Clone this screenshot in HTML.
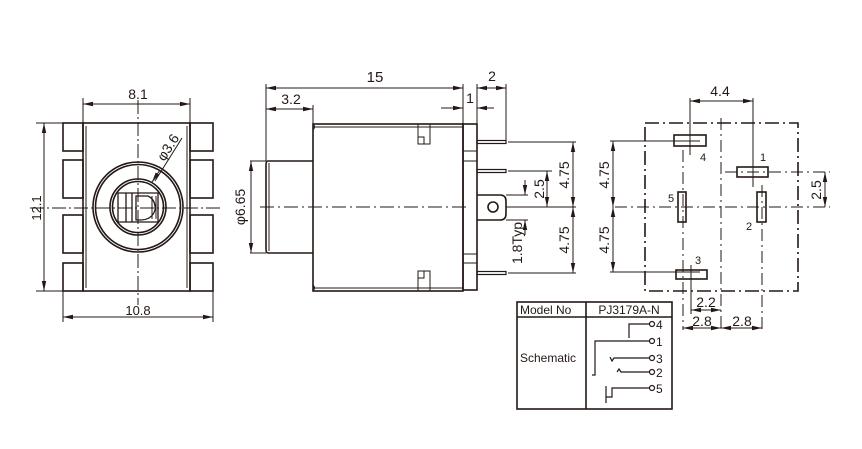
<!DOCTYPE html>
<html><head><meta charset="utf-8"><style>
html,body{margin:0;padding:0;background:#fff;}
svg{display:block}
text{font-family:"Liberation Sans",sans-serif;fill:#231815}
</style></head><body>
<svg width="862" height="449" viewBox="0 0 862 449" xmlns="http://www.w3.org/2000/svg">
<defs>
<marker id="a" viewBox="0 0 10 6" refX="10" refY="3" markerWidth="10" markerHeight="6" orient="auto-start-reverse" markerUnits="userSpaceOnUse"><path d="M0,0.8 L10,3 L0,5.2z" fill="#231815"/></marker>
</defs>
<g stroke="#231815" fill="none" stroke-width="1">
<g stroke-width="1.6">
<rect x="83" y="123" width="107" height="168"/>
<rect x="63" y="123" width="20" height="28"/>
<rect x="63" y="160" width="20" height="38"/>
<rect x="63" y="215" width="20" height="38"/>
<rect x="63" y="263" width="20" height="28"/>
<rect x="190" y="123" width="23" height="28"/>
<rect x="190" y="160" width="23" height="38"/>
<rect x="190" y="215" width="23" height="38"/>
<rect x="190" y="263" width="23" height="28"/>
<circle cx="138" cy="207" r="45"/>
<circle cx="138" cy="207" r="42.5"/>
<circle cx="138" cy="207" r="28"/>
<circle cx="138" cy="207" r="25.5"/>
</g>
<line x1="86" y1="126" x2="86" y2="288"/>
<line x1="187" y1="126" x2="187" y2="288"/>
<path d="M118,193 H158 V222 H118 Z M126,193 V222 M132,193 V222 M136,196 H148 Q156,200 155,210 Q152,220 140,220 H136 Z" stroke-width="1.3"/>
<path d="M152,196 V219 M156,196 V219"/>
<line x1="30" y1="208" x2="222" y2="208" stroke-dasharray="14,3,2,3"/>
<line x1="138" y1="100" x2="138" y2="305" stroke-dasharray="14,3,2,3"/>
<line x1="83" y1="98" x2="83" y2="123"/><line x1="190" y1="98" x2="190" y2="123"/>
<line x1="83" y1="104" x2="190" y2="104" marker-start="url(#a)" marker-end="url(#a)"/>
<line x1="36" y1="123" x2="63" y2="123"/><line x1="36" y1="291" x2="63" y2="291"/>
<line x1="44" y1="123" x2="44" y2="291" marker-start="url(#a)" marker-end="url(#a)"/>
<line x1="63" y1="291" x2="63" y2="322"/><line x1="213" y1="291" x2="213" y2="322"/>
<line x1="63" y1="317" x2="213" y2="317" marker-start="url(#a)" marker-end="url(#a)"/>
<line x1="155" y1="181" x2="182" y2="138"/>
<line x1="160" y1="170" x2="152" y2="182" marker-end="url(#a)"/>

<g stroke-width="1.6">
<rect x="313" y="124" width="150" height="167"/>
<rect x="463" y="124" width="14" height="166"/>
<path d="M313,161 H268 Q266,161 266,165 V249 Q266,253 268,253 H313"/>
<path d="M477,195 H500 Q506,195 506,201 V214 Q506,220 500,220 H477"/>
<circle cx="493" cy="207" r="5"/>
</g>
<line x1="313" y1="127" x2="463" y2="127"/><line x1="313" y1="288" x2="463" y2="288"/>
<line x1="269" y1="163" x2="269" y2="251"/>
<path d="M313,124 q3,3 0,6 M313,291 q3,-3 0,-6"/>
<line x1="463" y1="151" x2="477" y2="151"/><line x1="463" y1="161" x2="477" y2="161"/>
<line x1="463" y1="254" x2="477" y2="254"/><line x1="463" y1="263" x2="477" y2="263"/>
<path d="M418,124 V144 H430 V124 M418,137 H424 V144 M418,291 V271 H430 V291 M418,278 H424 V271"/>
<g stroke-width="1.2">
<rect x="477" y="140.5" width="29" height="3"/>
<rect x="477" y="169.5" width="29" height="3"/>
<rect x="477" y="271.5" width="29" height="3"/>
</g>
<line x1="260" y1="207" x2="470" y2="207" stroke-dasharray="14,4,2,4"/>
<line x1="266" y1="84" x2="266" y2="161"/><line x1="313" y1="105" x2="313" y2="124"/>
<line x1="463" y1="84" x2="463" y2="124"/><line x1="477" y1="84" x2="477" y2="124"/><line x1="506" y1="84" x2="506" y2="141"/>
<line x1="266" y1="88" x2="463" y2="88" marker-start="url(#a)" marker-end="url(#a)"/>
<line x1="266" y1="109" x2="313" y2="109" marker-start="url(#a)" marker-end="url(#a)"/>
<line x1="477" y1="88" x2="506" y2="88" marker-start="url(#a)" marker-end="url(#a)"/>
<line x1="441" y1="108" x2="463" y2="108" marker-end="url(#a)"/>
<line x1="494" y1="108" x2="477" y2="108" marker-end="url(#a)"/>
<line x1="250" y1="161" x2="266" y2="161"/><line x1="250" y1="253" x2="266" y2="253"/>
<line x1="251" y1="161" x2="251" y2="253" marker-start="url(#a)" marker-end="url(#a)"/>
<line x1="508" y1="142" x2="576" y2="142"/><line x1="508" y1="273" x2="576" y2="273"/>
<line x1="506" y1="207" x2="576" y2="207"/>
<line x1="508" y1="171" x2="552" y2="171"/>
<line x1="573" y1="142" x2="573" y2="207" marker-start="url(#a)" marker-end="url(#a)"/>
<line x1="573" y1="207" x2="573" y2="273" marker-start="url(#a)" marker-end="url(#a)"/>
<line x1="547" y1="171" x2="547" y2="207" marker-start="url(#a)" marker-end="url(#a)"/>
<line x1="506" y1="195" x2="528" y2="195"/><line x1="506" y1="220" x2="528" y2="220"/>
<line x1="525" y1="180" x2="525" y2="195" marker-end="url(#a)"/>
<line x1="525" y1="235" x2="525" y2="220" marker-end="url(#a)"/>

<g stroke-width="1.6">
<path d="M645,123 H798 V291 H645 Z" stroke-dasharray="14,4,2,4"/>
<rect x="674" y="135" width="32" height="11"/>
<rect x="737" y="167" width="31" height="10"/>
<rect x="678" y="192" width="8" height="30"/>
<rect x="757" y="192" width="9" height="30"/>
<rect x="676" y="270" width="31" height="9"/>
</g>
<g stroke-dasharray="12,4,2,4">
<line x1="721" y1="118" x2="721" y2="330"/>
<line x1="615" y1="207" x2="830" y2="207"/>
<line x1="683" y1="150" x2="683" y2="330"/>
<line x1="762" y1="185" x2="762" y2="330"/>
<line x1="725" y1="172" x2="830" y2="172"/>
</g>
<line x1="690" y1="98" x2="690" y2="155"/><line x1="753" y1="98" x2="753" y2="187"/>
<line x1="690" y1="101" x2="753" y2="101" marker-start="url(#a)" marker-end="url(#a)"/>
<line x1="610" y1="141" x2="700" y2="141"/><line x1="610" y1="272" x2="700" y2="272"/>
<line x1="613" y1="141" x2="613" y2="207" marker-start="url(#a)" marker-end="url(#a)"/>
<line x1="613" y1="207" x2="613" y2="272" marker-start="url(#a)" marker-end="url(#a)"/>
<line x1="825" y1="172" x2="825" y2="207" marker-start="url(#a)" marker-end="url(#a)"/>
<line x1="691" y1="265" x2="691" y2="314"/>
<line x1="691" y1="310" x2="721" y2="310" marker-start="url(#a)" marker-end="url(#a)"/>
<line x1="683" y1="328" x2="721" y2="328" marker-start="url(#a)" marker-end="url(#a)"/>
<line x1="721" y1="328" x2="762" y2="328" marker-start="url(#a)" marker-end="url(#a)"/>

<g stroke-width="1.6">
<rect x="517" y="302" width="155" height="107"/>
<line x1="586" y1="302" x2="586" y2="409"/>
<line x1="517" y1="317" x2="672" y2="317"/>
</g>
<g stroke-width="1.2">
<circle cx="652" cy="324" r="2.5"/><circle cx="652" cy="341" r="2.5"/><circle cx="652" cy="358" r="2.5"/><circle cx="652" cy="372" r="2.5"/><circle cx="652" cy="388" r="2.5"/>
<path d="M649.5,324 H629 V338"/>
<path d="M649.5,341 H595 V375 H592"/>
<path d="M649.5,358 H614 L612,361 L610,357"/>
<path d="M649.5,372 H621 L619,369 L617,372"/>
<path d="M649.5,388 H612 V397 H606 M606,386 V403"/>
</g>
</g>
<g font-size="14">
<text x="138" y="99" text-anchor="middle">8.1</text>
<text x="138" y="315" text-anchor="middle" font-size="13">10.8</text>
<text transform="translate(41,208) rotate(-90)" text-anchor="middle" font-size="13">12.1</text>
<text transform="translate(172,150) rotate(-57)" text-anchor="middle">φ3.6</text>
<text transform="translate(245,207) rotate(-90)" text-anchor="middle">φ6.65</text>
<text x="375" y="82" text-anchor="middle" font-size="15">15</text>
<text x="291" y="104" text-anchor="middle">3.2</text>
<text x="492" y="81" text-anchor="middle">2</text>
<text x="470" y="103" text-anchor="middle">1</text>
<text transform="translate(569,175) rotate(-90)" text-anchor="middle">4.75</text>
<text transform="translate(569,240) rotate(-90)" text-anchor="middle">4.75</text>
<text transform="translate(544,189) rotate(-90)" text-anchor="middle">2.5</text>
<text transform="translate(522,243) rotate(-90)" text-anchor="middle">1.8Typ</text>
<text x="720" y="96" text-anchor="middle">4.4</text>
<text transform="translate(609,175) rotate(-90)" text-anchor="middle">4.75</text>
<text transform="translate(609,240) rotate(-90)" text-anchor="middle">4.75</text>
<text transform="translate(821,190) rotate(-90)" text-anchor="middle">2.5</text>
<text x="706" y="307" text-anchor="middle">2.2</text>
<text x="702" y="326" text-anchor="middle">2.8</text>
<text x="742" y="326" text-anchor="middle">2.8</text>
</g>
<g font-size="11">
<text x="700" y="161">4</text><text x="760" y="161">1</text><text x="668" y="202">5</text><text x="746" y="230">2</text><text x="695" y="264">3</text>
</g>
<g font-size="12">
<text x="520" y="314">Model No</text>
<text x="629" y="314" text-anchor="middle">PJ3179A-N</text>
<text x="520" y="362">Schematic</text>
<text x="656" y="329">4</text><text x="656" y="346">1</text><text x="656" y="363">3</text><text x="656" y="377">2</text><text x="656" y="393">5</text>
</g>
</svg>
</body></html>
